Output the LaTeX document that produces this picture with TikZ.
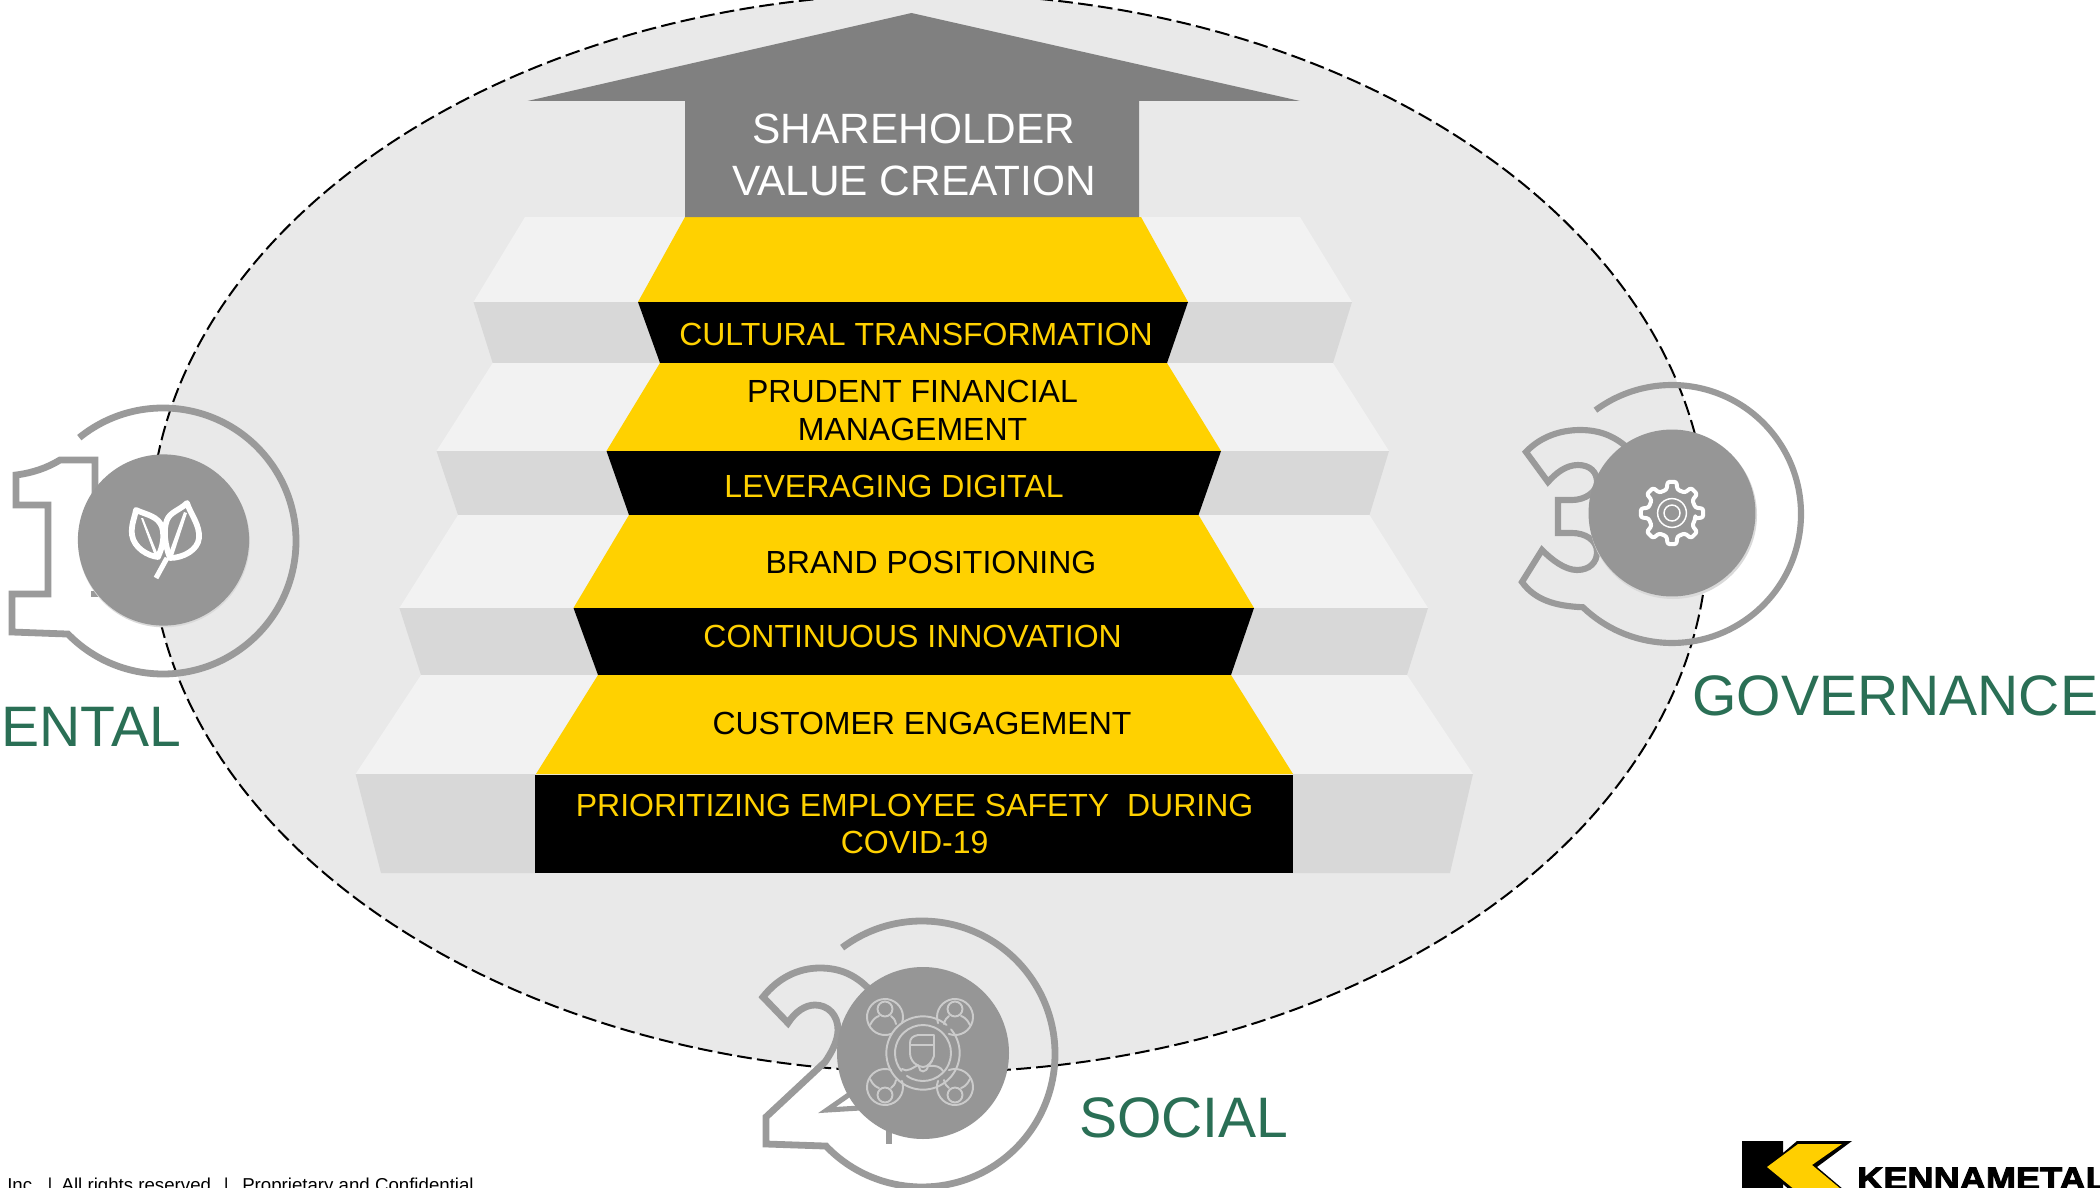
\documentclass[tikz,border=0pt]{standalone}
\usepackage{fontspec}
\setmainfont{Liberation Sans}
\newfontfamily\logofont[FakeBold=3,FakeStretch=1.13]{Liberation Sans}
\definecolor{kyellow}{HTML}{FFD100}
\definecolor{kgreen}{HTML}{2A6F55}
\definecolor{ellfill}{HTML}{E9E9E9}
\definecolor{treadgrey}{HTML}{F2F2F2}
\definecolor{risegrey}{HTML}{D8D8D8}
\definecolor{arrowgrey}{HTML}{808080}
\definecolor{ringgrey}{HTML}{9A9A9A}
\definecolor{discgrey}{HTML}{969696}
\definecolor{peoplegrey}{HTML}{CBCBCB}
\tikzset{
  x=0.75pt,y=-0.75pt,
  tread/.style={fill=treadgrey},
  riser/.style={fill=risegrey},
  yellowstep/.style={fill=kyellow},
  blackstep/.style={fill=black},
  ringline/.style={draw=ringgrey,line width=5.1pt,miter limit=6},
  disc/.style={fill=discgrey},
  discshadow/.style={fill=white!85!black},
  iconline/.style={draw=white,line width=3.4pt,line join=round},
  peopleline/.style={draw=peoplegrey,line width=1.45pt,line cap=round,line join=round},
  steptext/.style={font=\fontsize{24}{28}\selectfont,anchor=base,inner sep=0pt},
  steptwo/.style={font=\fontsize{24}{28}\selectfont,align=center,inner sep=0pt},
  greenlabel/.style={font=\fontsize{42.8}{48}\selectfont,text=kgreen,anchor=base,inner sep=0pt},
}
\newcommand{\kmperson}[4]{%
  \begin{scope}[shift={(#1,#2)},xscale=#3,yscale=#4]
    \draw[peopleline] (-20:13.5pt) arc[start angle=-20,end angle=290,radius=13.5pt];
    \draw[peopleline] (0,-8) circle[radius=5.6pt];
    \draw[peopleline] (-15,8) .. controls (-12,2) and (-9,0) .. (-6,-1);
    \draw[peopleline] (6,-1) .. controls (8,1) and (10,2) .. (11,7);
  \end{scope}}
\begin{document}
\begin{tikzpicture}
\useasboundingbox (0,0) rectangle (2100,1188);
\clip (0,0) rectangle (2100,1188);
\fill[white] (0,0) rectangle (2100,1188);
% ellipse
\draw[fill=ellfill,draw=black,line width=1.5pt,dash pattern=on 11pt off 4pt]
  (929,533) ellipse[x radius=584.25pt,y radius=404.6pt];
% left side of the stairs
\path[tread] (525,217)--(685,217)--(638,302)--(473.5,302)--cycle;
\path[riser] (473.5,302)--(638,302)--(660,363)--(492.7,363)--cycle;
\path[tread] (492.7,363)--(660,363)--(606.5,451)--(436.5,451)--cycle;
\path[riser] (436.5,451)--(606.5,451)--(629,515)--(458,515)--cycle;
\path[tread] (458,515)--(629,515)--(573.5,608)--(399.4,608)--cycle;
\path[riser] (399.4,608)--(573.5,608)--(598,675)--(421,675)--cycle;
\path[tread] (421,675)--(598,675)--(536,774)--(355.6,774)--cycle;
\path[riser] (355.6,774)--(536,774)--(536,873)--(381,873)--cycle;
% right side of the stairs
\path[tread] (1141,217)--(1300,217)--(1352,302)--(1188,302)--cycle;
\path[riser] (1188,302)--(1352,302)--(1333,363)--(1167,363)--cycle;
\path[tread] (1167,363)--(1333,363)--(1389,451)--(1220,451)--cycle;
\path[riser] (1220,451)--(1389,451)--(1369.5,515)--(1198.5,515)--cycle;
\path[tread] (1198.5,515)--(1369.5,515)--(1428,608)--(1253,608)--cycle;
\path[riser] (1253,608)--(1428,608)--(1407,675)--(1231,675)--cycle;
\path[tread] (1231,675)--(1407,675)--(1473,774)--(1293,774)--cycle;
\path[riser] (1293,774)--(1473,774)--(1450,873)--(1293,873)--cycle;
% centre of the stairs
\path[yellowstep] (685,217)--(1141,217)--(1188,302)--(638,302)--cycle;
\path[blackstep] (638,302)--(1188,302)--(1167,363)--(660,363)--cycle;
\path[yellowstep] (660,363)--(1167,363)--(1221,451)--(606.5,451)--cycle;
\path[blackstep] (606.5,451)--(1221,451)--(1198.5,515)--(629,515)--cycle;
\path[yellowstep] (629,515)--(1198.5,515)--(1254,608)--(573.5,608)--cycle;
\path[blackstep] (573.5,608)--(1254,608)--(1231,675)--(598,675)--cycle;
\path[yellowstep] (598,675)--(1231,675)--(1293,774)--(536,774)--cycle;
\path[blackstep] (535,775)--(1293,775)--(1293,873)--(535,873)--cycle;
% arrow
\fill[arrowgrey] (911.5,13)--(1300,101)--(1139,101)--(1139,217)--(685,217)--(685,101)--(527.5,101)--cycle;
\node[font=\fontsize{31.8}{39}\selectfont,text=white,align=center,inner sep=0pt] (shv) at (914,154.6) {SHAREHOLDER\\VALUE CREATION};
% step texts
\node[steptext,text=kyellow] (t1) at (916,345) {CULTURAL TRANSFORMATION};
\node[steptwo,text=black] (t2) at (912.5,410.4) {PRUDENT FINANCIAL\\MANAGEMENT};
\node[steptext,text=kyellow] (t3) at (894,497) {LEVERAGING DIGITAL};
\node[steptext,text=black] (t4) at (931,573) {BRAND POSITIONING};
\node[steptext,text=kyellow] (t5) at (912.6,647) {CONTINUOUS INNOVATION};
\node[steptext,text=black] (t6) at (922,734) {CUSTOMER ENGAGEMENT};
\node[steptwo,text=kyellow] (t7) at (914.6,824) {PRIORITIZING EMPLOYEE SAFETY\ \ DURING\\COVID-19};
% emblem 1
\draw[ringline] (163,541) ++(129:99.75pt) arc[start angle=129,end angle=-135.6,radius=99.75pt]
  -- (12,632) -- (12,594) -- (48,594) -- (48,505) -- (16,505) -- (16,475)
  .. controls (32,473) and (47,468) .. (60,460) -- (95,460) -- (95,500);
\draw[ringline] (91,594) -- (104,594);
\fill[discshadow] (164,541.5) circle[radius=64.4pt];
\fill[disc] (163.5,540) circle[radius=64.2pt];
\draw[draw=white,line width=4.3pt,line join=round] (187,503) .. controls (191,515) and (200,525) .. (199,538) .. controls (198,550) and (183,558) .. (170,558) .. controls (165,545) and (163,530) .. (167,520) .. controls (170,512) and (180,510) .. (187,503) -- cycle;
\draw[draw=white,line width=4.3pt,line join=round] (136,510) .. controls (147,515) and (158,516) .. (162,527) .. controls (165,538) and (162,548) .. (158,557) .. controls (148,556) and (134,548) .. (132,535) .. controls (131,525) and (134,520) .. (136,510) -- cycle;
\fill[white] (184,512) -- (187,513) -- (173,556) -- (168,556) -- cycle;
\fill[white] (141,518) -- (143,518) -- (158,555) -- (155,556) -- cycle;
\draw[white,line width=3.8pt] (167,558) -- (156,578);
% emblem 3
\draw[ringline,line width=4.6pt] (1672,514) ++(126.4:96.75pt) arc[start angle=126.4,end angle=-133.7,radius=96.75pt]
  .. controls (1555,606) and (1535,600) .. (1522,582) -- (1542,550)
  .. controls (1552,560) and (1565,570) .. (1577,570)
  .. controls (1590,570) and (1597,562) .. (1597,552)
  .. controls (1597,540) and (1585,533) .. (1572,533) -- (1558,533) -- (1558,500) -- (1572,500)
  .. controls (1585,500) and (1597,492) .. (1597,482)
  .. controls (1597,472) and (1590,465) .. (1578,465)
  .. controls (1566,465) and (1556,473) .. (1548,482) -- (1526,452)
  .. controls (1540,437) and (1560,430) .. (1580,430)
  .. controls (1600,430) and (1615,436) .. (1630,450);
\fill[discshadow] (1673,515) circle[radius=63pt];
\fill[disc] (1672,513) circle[radius=62.6pt];
\begin{scope}[shift={(1672,513)}]
  \draw[iconline,line width=3pt,rounded corners=1.6pt] (-13:18pt)
    foreach \a in {0,45,...,315} { -- ({\a-13}:18pt) -- ({\a-8}:23.6pt) -- ({\a+8}:23.6pt) -- ({\a+13}:18pt) } -- cycle;
  \draw[white,line width=1.1pt] (0,0) circle[radius=10.8pt];
  \draw[white,line width=1.1pt] (0,0) circle[radius=6pt];
\end{scope}
% emblem 2
\draw[ringline] (922,1054) ++(126.9:99.75pt) arc[start angle=126.9,end angle=-136.2,radius=99.75pt]
  -- (766,1144) -- (766,1117) -- (825,1062)
  .. controls (832,1052) and (838,1040) .. (838,1030)
  .. controls (838,1015) and (828,1005) .. (815,1005)
  .. controls (805,1005) and (795,1012) .. (788,1023) -- (763,997)
  .. controls (778,978) and (798,968) .. (820,968)
  .. controls (840,968) and (855,975) .. (868,988);
\draw[ringline,line width=3.8pt,line join=miter] (850,1094) -- (827,1110) -- (860,1108);
\draw[ringline] (889,1120) -- (889,1144);
\fill[disc] (923,1053) circle[radius=64.5pt];
\begin{scope}[shift={(923,1053)}]
  \draw[peopleline] (50:27.5pt) arc[start angle=50,end angle=400,radius=27.5pt];
  \draw[peopleline] (-125:21pt) arc[start angle=-125,end angle=220,radius=21pt];
  \draw[peopleline] (11,-8) -- (11,-18) -- (-5,-18) .. controls (-10,-17) and (-13,-15) .. (-13,-10) -- (-13,0)
    .. controls (-13,8) and (-6,14) .. (0,14) .. controls (5,14) and (9,9) .. (11,3) -- (11,-8) -- (-13,-8);
  \draw[peopleline] (-4,14) .. controls (-4,20) and (4,20) .. (5,13);
  \draw[peopleline] (-21,16) .. controls (-16,20) and (-9,14) .. (-5,12);
  \draw[peopleline] (6,13) .. controls (12,12) and (18,14) .. (20,18);
  \draw[peopleline] (6,12) -- (9,8);
\end{scope}
\kmperson{885}{1017}{1}{1}
\kmperson{955}{1017}{-1}{1}
\kmperson{885}{1087}{1}{-1}
\kmperson{955}{1087}{-1}{-1}
% labels
\node[greenlabel,anchor=base west] (env) at (1,746) {ENTAL};
\node[greenlabel,anchor=base west] (gov) at (1692,715) {GOVERNANCE};
\node[greenlabel,anchor=base west] (soc) at (1079,1137) {SOCIAL};
% footer
\node[font=\fontsize{14}{16}\selectfont,anchor=base west,inner sep=0pt] (foot) at (7,1191.5) {Inc.\ \ |\hspace{6.8pt}All rights reserved.\hspace{5.8pt}|\ \ \,Proprietary and Confidential};
% logo
\fill[black] (1742,1141)--(1783,1141)--(1783,1153)--(1797,1141)--(1852,1141)--(1817,1167)--(1850,1195)--(1795,1195)--(1783,1184)--(1783,1195)--(1742,1195)--cycle;
\fill[kyellow!97!orange] (1767,1167)--(1798,1144)--(1842,1144)--(1812,1165)--(1842,1190)--(1795,1190)--cycle;
\node[font=\logofont\bfseries\fontsize{24}{28}\selectfont,anchor=base west,inner sep=0pt] (logo) at (1857,1189.5) {KENNAMETAL};
\end{tikzpicture}
\end{document}
